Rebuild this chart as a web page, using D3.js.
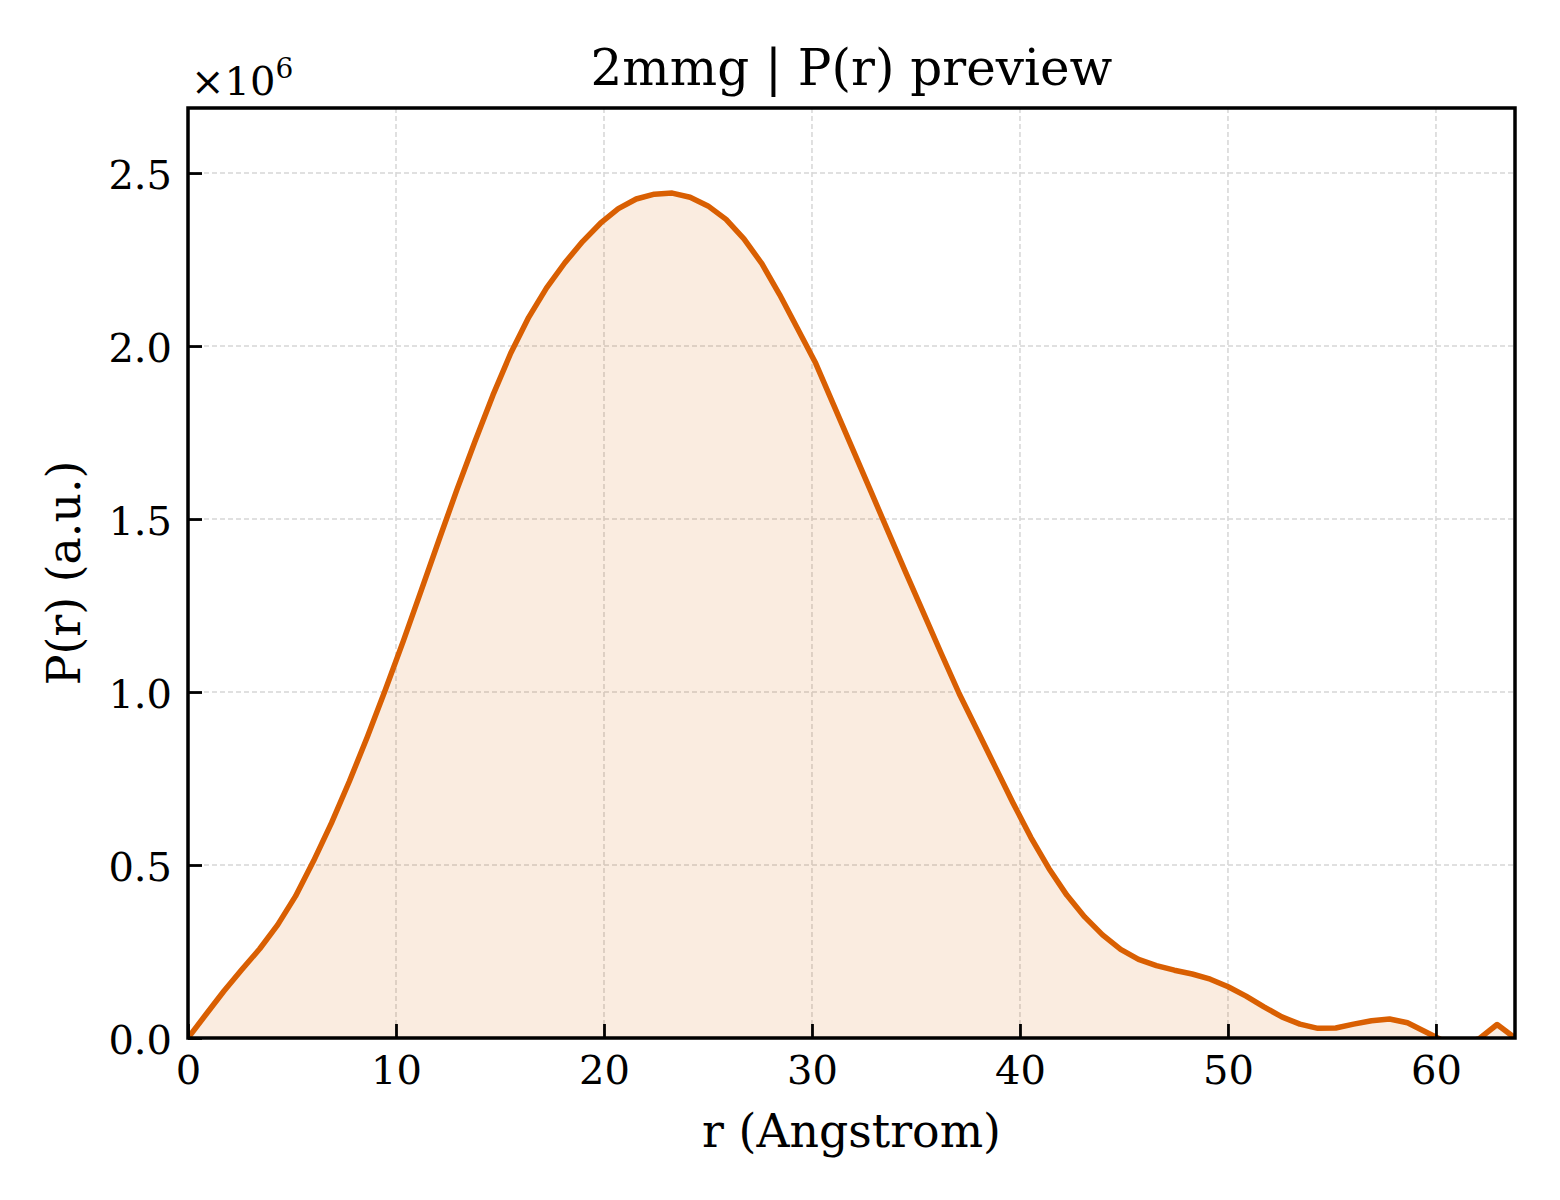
<!DOCTYPE html>
<html>
<head>
<meta charset="utf-8">
<script src="https://cdn.jsdelivr.net/npm/d3@7"></script>
<style>
  body { margin: 0; background: #fff; }
  text { font-family: "DejaVu Serif", serif; fill: #000; }
</style>
</head>
<body>
<div class="pr-chart"></div>
<script>
// r grid (Angstrom) and P(r) values in units of 1e6
const rValues = [
  0.00, 0.86, 1.72, 2.59, 3.45, 4.31, 5.17, 6.04, 6.90, 7.76,
  8.62, 9.48, 10.35, 11.21, 12.07, 12.93, 13.80, 14.66, 15.52, 16.38,
  17.24, 18.11, 18.97, 19.83, 20.69, 21.55, 22.42, 23.28, 24.14, 25.00,
  25.87, 26.73, 27.59, 28.45, 29.31, 30.18, 31.04, 31.90, 32.76, 33.63,
  34.49, 35.35, 36.21, 37.08, 37.94, 38.80, 39.66, 40.52, 41.39, 42.25,
  43.11, 43.97, 44.84, 45.70, 46.56, 47.42, 48.28, 49.15, 50.01, 50.87,
  51.73, 52.59, 53.46, 54.32, 55.18, 56.04, 56.90, 57.77, 58.63, 59.49,
  60.35, 61.21, 62.08, 62.94, 63.80
];
const prValues = [
  0.000, 0.068, 0.135, 0.198, 0.258, 0.327, 0.410, 0.512, 0.622, 0.742,
  0.870, 1.005, 1.147, 1.293, 1.440, 1.585, 1.725, 1.858, 1.980, 2.083,
  2.168, 2.240, 2.302, 2.355, 2.397, 2.425, 2.439, 2.442, 2.430, 2.405,
  2.366, 2.310, 2.238, 2.148, 2.050, 1.950, 1.830, 1.710, 1.590, 1.468,
  1.348, 1.230, 1.112, 0.995, 0.890, 0.785, 0.680, 0.580, 0.490, 0.413,
  0.350, 0.298, 0.256, 0.227, 0.209, 0.196, 0.185, 0.170, 0.148, 0.121,
  0.090, 0.061, 0.040, 0.028, 0.029, 0.040, 0.050, 0.055, 0.044, 0.018,
  -0.008, -0.018, -0.002, 0.039, 0.000
];
const xTicks = [0, 10, 20, 30, 40, 50, 60];
const yTicks = [0, 0.5, 1.0, 1.5, 2.0, 2.5];

const data = rValues.map((r, i) => ({r: r, p: prValues[i]}));

const margin = ({top: 108, right: 45, bottom: 162, left: 188});
const width = 1560 - margin.left - margin.right;
const height = 1200 - margin.top - margin.bottom;
const orange = "#d95f02";

const svg = d3.select(".pr-chart")
    .append("svg")
    .attr("width", 1560)
    .attr("height", 1200);

const g = svg.append("g")
    .attr("transform", `translate(${margin.left},${margin.top})`);

const xScale = d3.scaleLinear()
    .domain([0, 63.8])
    .range([0, width]);

const yScale = d3.scaleLinear()
    .domain([0, 2.688])
    .range([height, 0]);

// grid
g.append("g")
    .selectAll("line")
    .data(xTicks)
    .enter()
    .append("line")
    .attr("x1", d => xScale(d))
    .attr("x2", d => xScale(d))
    .attr("y1", 0)
    .attr("y2", height)
    .attr("stroke", "#d6d6d6")
    .attr("stroke-width", 1.5)
    .attr("stroke-dasharray", "5,3");

g.append("g")
    .selectAll("line")
    .data(yTicks)
    .enter()
    .append("line")
    .attr("x1", 0)
    .attr("x2", width)
    .attr("y1", d => yScale(d))
    .attr("y2", d => yScale(d))
    .attr("stroke", "#d6d6d6")
    .attr("stroke-width", 1.5)
    .attr("stroke-dasharray", "5,3");

// clip to the axes box
g.append("clipPath")
    .attr("id", "plot-clip")
    .append("rect")
    .attr("width", width)
    .attr("height", height);

const area = d3.area()
    .x(d => xScale(d.r))
    .y0(yScale(0))
    .y1(d => yScale(d.p));

const line = d3.line()
    .x(d => xScale(d.r))
    .y(d => yScale(d.p));

g.append("path")
    .datum(data)
    .attr("clip-path", "url(#plot-clip)")
    .attr("fill", orange)
    .attr("fill-opacity", 0.12)
    .attr("d", area);

g.append("path")
    .datum(data)
    .attr("clip-path", "url(#plot-clip)")
    .attr("fill", "none")
    .attr("stroke", orange)
    .attr("stroke-width", 5.5)
    .attr("stroke-linejoin", "round")
    .attr("d", line);

// axes, ticks pointing inward
const xAxis = d3.axisBottom(xScale)
    .tickValues(xTicks)
    .tickSizeInner(-14)
    .tickSizeOuter(0)
    .tickPadding(18)
    .tickFormat(d3.format("d"));

const yAxis = d3.axisLeft(yScale)
    .tickValues(yTicks)
    .tickSizeInner(-14)
    .tickSizeOuter(0)
    .tickPadding(16)
    .tickFormat(d3.format(".1f"));

const xAxisGroup = g.append("g")
    .attr("class", "axis x-axis")
    .attr("transform", `translate(0,${height})`)
    .call(xAxis)
    .call(g => g.select(".domain").remove());

xAxisGroup.selectAll(".tick line")
    .attr("stroke", "#000")
    .attr("stroke-width", 2.8);

xAxisGroup.selectAll(".tick text")
    .attr("font-size", 40)
    .attr("font-family", "DejaVu Serif");

const yAxisGroup = g.append("g")
    .attr("class", "axis y-axis")
    .call(yAxis)
    .call(g => g.select(".domain").remove());

yAxisGroup.selectAll(".tick line")
    .attr("stroke", "#000")
    .attr("stroke-width", 2.8);

yAxisGroup.selectAll(".tick text")
    .attr("font-size", 40)
    .attr("font-family", "DejaVu Serif")
    .attr("dy", "0.38em");

// frame
g.append("rect")
    .attr("width", width)
    .attr("height", height)
    .attr("fill", "none")
    .attr("stroke", "#000")
    .attr("stroke-width", 3.5);

// labels
svg.append("text")
    .attr("x", margin.left + width / 2)
    .attr("y", 85)
    .attr("text-anchor", "middle")
    .attr("font-size", 50)
    .text("2mmg | P(r) preview");

svg.append("text")
    .attr("x", margin.left + width / 2)
    .attr("y", 1147)
    .attr("text-anchor", "middle")
    .attr("font-size", 45.8)
    .text("r (Angstrom)");

svg.append("text")
    .attr("transform", `translate(80,${margin.top + height / 2}) rotate(-90)`)
    .attr("text-anchor", "middle")
    .attr("font-size", 45.8)
    .text("P(r) (a.u.)");

const offset = svg.append("text")
    .attr("x", margin.left + 3)
    .attr("y", 95)
    .attr("font-size", 40);
offset.append("tspan").text("\u00d710");
offset.append("tspan")
    .attr("dy", -17)
    .attr("font-size", 28)
    .text("6");
</script>
</body>
</html>
